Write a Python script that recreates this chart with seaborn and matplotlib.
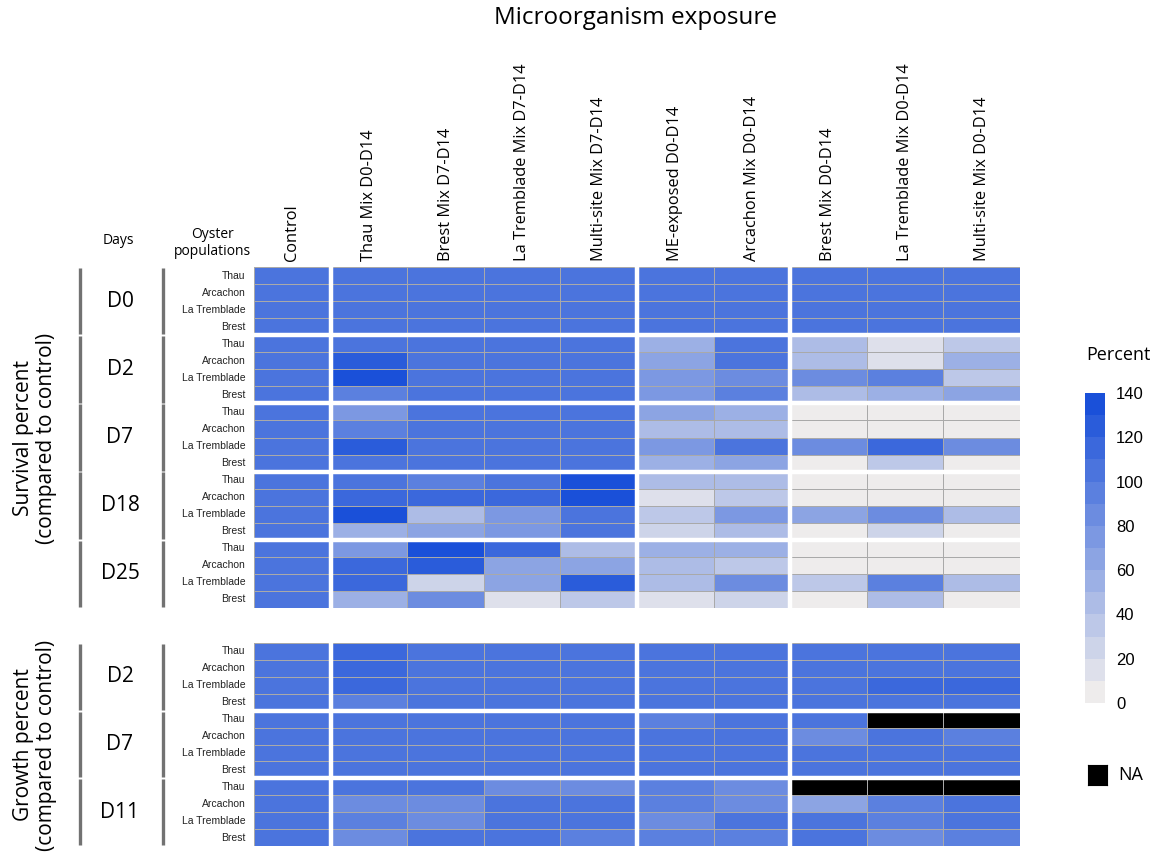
import numpy as np
import pandas as pd
import seaborn as sns
import matplotlib.pyplot as plt
from matplotlib.colors import ListedColormap, to_rgb

columns = ["Control", "Thau Mix D0-D14", "Brest Mix D7-D14", "La Tremblade Mix D7-D14",
           "Multi-site Mix D7-D14", "ME-exposed D0-D14", "Arcachon Mix D0-D14",
           "Brest Mix D0-D14", "La Tremblade Mix D0-D14", "Multi-site Mix D0-D14"]
populations = ["Thau", "Arcachon", "La Tremblade", "Brest"]
survival_days = ["D0", "D2", "D7", "D18", "D25"]
growth_days = ["D2", "D7", "D11"]

# survival percent (compared to control), rows = populations, cols = exposures
surv_d0 = [[100, 100, 100, 100, 100, 100, 100, 100, 100, 100],
           [100, 100, 100, 100, 100, 100, 100, 100, 100, 100],
           [100, 100, 100, 100, 100, 100, 100, 100, 100, 100],
           [100, 100, 100, 100, 100, 100, 100, 100, 100, 100]]
surv_d2 = [[100, 100, 100, 100, 100, 55, 105, 40, 15, 35],
           [100, 125, 100, 100, 100, 65, 100, 40, 15, 50],
           [100, 135, 100, 100, 100, 75, 85, 80, 90, 35],
           [100, 95, 100, 100, 100, 70, 90, 45, 55, 60]]
surv_d7 = [[100, 70, 100, 100, 100, 65, 55, 0, 0, 0],
           [100, 95, 100, 100, 100, 45, 45, 0, 0, 0],
           [100, 120, 100, 100, 100, 75, 100, 80, 110, 85],
           [100, 105, 100, 100, 100, 55, 65, 0, 30, 0]]
surv_d18 = [[100, 100, 90, 100, 130, 45, 40, 0, 0, 0],
            [100, 110, 115, 110, 135, 15, 30, 0, 0, 0],
            [100, 130, 45, 75, 105, 35, 75, 60, 85, 45],
            [100, 55, 65, 70, 100, 25, 45, 0, 25, 0]]
surv_d25 = [[100, 70, 140, 115, 45, 55, 55, 0, 0, 0],
            [100, 115, 125, 65, 65, 45, 35, 0, 0, 0],
            [100, 110, 20, 60, 125, 45, 80, 30, 90, 45],
            [100, 55, 85, 15, 30, 10, 25, 0, 45, 0]]

# growth percent (compared to control), NaN = NA
grow_d2 = [[100, 110, 100, 100, 100, 100, 100, 100, 100, 100],
           [100, 110, 100, 100, 100, 100, 100, 100, 100, 100],
           [100, 110, 100, 100, 100, 100, 100, 100, 110, 110],
           [100, 95, 100, 100, 100, 100, 100, 100, 100, 100]]
grow_d7 = [[100, 100, 100, 100, 100, 90, 100, 100, np.nan, np.nan],
           [100, 100, 100, 100, 100, 100, 100, 85, 100, 90],
           [100, 100, 100, 100, 100, 100, 100, 100, 100, 100],
           [100, 100, 100, 100, 100, 100, 100, 100, 100, 100]]
grow_d11 = [[100, 100, 100, 85, 85, 90, 85, np.nan, np.nan, np.nan],
            [100, 85, 85, 100, 100, 90, 85, 65, 90, 100],
            [100, 95, 85, 100, 100, 85, 100, 100, 90, 100],
            [100, 85, 100, 100, 90, 95, 95, 100, 85, 90]]

surv = pd.DataFrame(np.vstack([surv_d0, surv_d2, surv_d7, surv_d18, surv_d25]),
                    index=populations * 5, columns=columns)
grow = pd.DataFrame(np.vstack([grow_d2, grow_d7, grow_d11]),
                    index=populations * 3, columns=columns)

# 14 stepped colours, light grey -> blue
lo, hi = np.array(to_rgb("#eeecec")), np.array(to_rgb("#1a50d9"))
cmap = ListedColormap([lo + (hi - lo) * i / 13 for i in range(14)])

W, H = 1158, 859
fig = plt.figure(figsize=(W / 100, H / 100), dpi=100)
plt.rcParams["font.family"] = ["Open Sans", "DejaVu Sans"]


def add_ax(l, t, r, b):
    return fig.add_axes([l / W, 1 - b / H, (r - l) / W, (b - t) / H])


ax_s = add_ax(254, 267, 1020, 608)
ax_g = add_ax(254, 643, 1020, 846)
cax = add_ax(1085, 393, 1105, 703)

sns.heatmap(surv, ax=ax_s, cmap=cmap, vmin=0, vmax=140, linewidths=0.6,
            linecolor="#a9a9a9", cbar_ax=cax, cbar_kws={"ticks": range(0, 141, 20)})
ax_g.set_facecolor("black")
sns.heatmap(grow, ax=ax_g, cmap=cmap, vmin=0, vmax=140, linewidths=0.6,
            linecolor="#a9a9a9", cbar=False, xticklabels=False)

for ax, nblocks in [(ax_s, 5), (ax_g, 3)]:
    for k in range(1, nblocks):
        ax.axhline(k * 4, color="white", lw=3.2)
    for c in [1, 5, 7]:
        ax.axvline(c, color="white", lw=3.2)
    ax.set_xlabel("")
    ax.set_ylabel("")
    ax.tick_params(axis="y", length=0, pad=6)
    ax.set_yticklabels(ax.get_yticklabels(), rotation=0, fontsize=7.5,
                       family="Liberation Sans", color="#222222")

ax_s.xaxis.tick_top()
ax_s.tick_params(axis="x", length=0, pad=4)
ax_s.set_xticklabels(columns, rotation=90, fontsize=11.8)

# day brackets on the left
for ax, days in [(ax_s, survival_days), (ax_g, growth_days)]:
    tr = ax.get_yaxis_transform()
    for i, d in enumerate(days):
        for x in (-0.227, -0.119):
            ax.plot([x, x], [i * 4 + 0.05, i * 4 + 3.95], transform=tr, clip_on=False,
                    color="#727272", lw=2.4, solid_capstyle="butt")
        ax.text(-0.175, i * 4 + 2, d, transform=tr, ha="center", va="center", fontsize=15)

fig.text(35 / W, 1 - 438 / H, "Survival percent\n(compared to control)", rotation=90,
         ha="center", va="center", fontsize=15, linespacing=1.15)
fig.text(35 / W, 1 - 745 / H, "Growth percent\n(compared to control)", rotation=90,
         ha="center", va="center", fontsize=15, linespacing=1.15)
fig.text(118 / W, 1 - 241 / H, "Days", ha="center", va="center", fontsize=10)
fig.text(212 / W, 1 - 243 / H, "Oyster\npopulations", ha="center", va="center",
         fontsize=10, linespacing=1.1)
fig.text(636 / W, 1 - 18 / H, "Microorganism exposure", ha="center", va="center", fontsize=17.5)

# colour bar styling
cbar = ax_s.collections[0].colorbar
cbar.outline.set_visible(False)
cax.tick_params(length=0, labelsize=12, pad=8)
for t in cax.get_yticklabels():
    t.set_family("Liberation Sans")
fig.text(1118 / W, 1 - 355 / H, "Percent", ha="center", va="center", fontsize=13)

# NA key
na_ax = add_ax(1088, 765, 1107, 785)
na_ax.set_facecolor("black")
na_ax.set_xticks([])
na_ax.set_yticks([])
fig.text(1118 / W, 1 - 775 / H, "NA", ha="left", va="center", fontsize=13)

fig.savefig("out.png", dpi=100)
